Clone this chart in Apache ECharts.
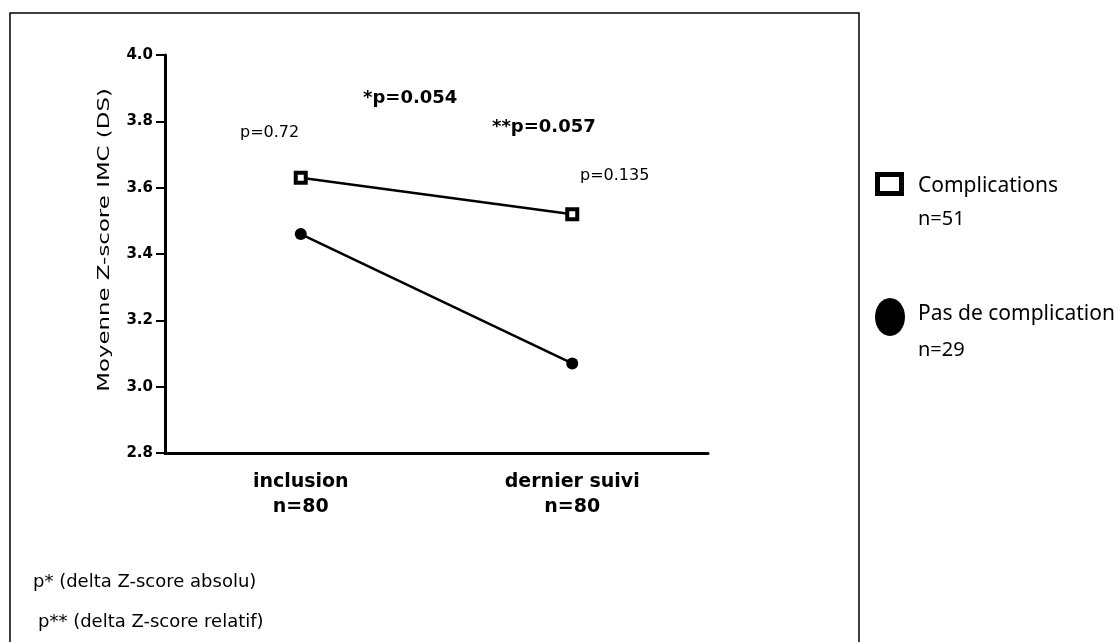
<!DOCTYPE html>
<html>
<head>
<meta charset="utf-8">
<script src="https://cdn.jsdelivr.net/npm/echarts@6/dist/echarts.min.js"></script>
<style>
body { margin: 0; background: #fff; }
#chart { width: 1120px; height: 642px; }
</style>
</head>
<body>
<div id="chart"></div>
<script>
// data
const categories = ['inclusion', 'dernier suivi'];
const counts = ['n=80', 'n=80'];
const complications = [3.63, 3.52];
const sansComplication = [3.46, 3.07];
const seriesNames = ['Complications', 'Pas de complication'];
const seriesCounts = ['n=51', 'n=29'];
const yTicks = { min: 2.8, max: 4.0, interval: 0.2 };

const chart = echarts.init(document.getElementById('chart'));
const sans = 'DejaVu Sans, sans-serif';
const calibri = 'Noto Sans, sans-serif';

chart.setOption({
  animation: false,
  grid: { left: 165, top: 55, width: 543, height: 398 },
  xAxis: {
    type: 'category',
    data: categories,
    axisLine: { lineStyle: { color: '#000', width: 3 } },
    axisTick: { alignWithLabel: true, length: 8, lineStyle: { color: '#000', width: 2 } },
    axisLabel: {
      margin: 17,
      color: '#000',
      fontFamily: sans,
      fontWeight: 'bold',
      fontSize: 19,
      lineHeight: 25,
      formatter: (v, i) => v + '\n' + counts[i]
    }
  },
  yAxis: {
    type: 'value',
    min: yTicks.min,
    max: yTicks.max,
    interval: yTicks.interval,
    splitLine: { show: false },
    axisLine: { show: true, lineStyle: { color: '#000', width: 3 } },
    axisTick: { show: true, length: 9, lineStyle: { color: '#000', width: 2 } },
    axisLabel: {
      margin: 12,
      color: '#000',
      fontFamily: sans,
      fontWeight: 'bold',
      fontSize: 15,
      formatter: v => v.toFixed(1)
    }
  },
  series: [
    {
      name: seriesNames[0],
      type: 'line',
      data: complications,
      symbol: 'rect',
      symbolSize: 10,
      lineStyle: { color: '#000', width: 2.5 },
      itemStyle: { color: '#fff', borderColor: '#000', borderWidth: 4 },
      z: 3
    },
    {
      name: seriesNames[1],
      type: 'line',
      data: sansComplication,
      symbol: 'circle',
      symbolSize: 12,
      lineStyle: { color: '#000', width: 2.5 },
      itemStyle: { color: '#000' }
    }
  ],
  graphic: [
    // frame
    { type: 'rect', shape: { x: 10, y: 13, width: 849, height: 640 },
      style: { fill: 'none', stroke: '#000', lineWidth: 1.5 }, silent: true },
    // y axis title (stretched like the original)
    { type: 'text', x: 105, y: 240, rotation: Math.PI / 2, scaleX: 1.43,
      style: { text: 'Moyenne Z-score IMC (DS)', font: '16px ' + sans, fill: '#000', align: 'center', verticalAlign: 'middle' } },
    // p-value annotations
    { type: 'text', x: 240, y: 133, style: { text: 'p=0.72', font: '16px ' + sans, fill: '#000', verticalAlign: 'middle' } },
    { type: 'text', x: 363, y: 98, style: { text: '*p=0.054', font: 'bold 18px ' + sans, fill: '#000', verticalAlign: 'middle' } },
    { type: 'text', x: 492, y: 127, style: { text: '**p=0.057', font: 'bold 18px ' + sans, fill: '#000', verticalAlign: 'middle' } },
    { type: 'text', x: 580, y: 176, style: { text: 'p=0.135', font: '16px ' + sans, fill: '#000', verticalAlign: 'middle' } },
    // legend
    { type: 'rect', shape: { x: 877.5, y: 174.5, width: 24, height: 19 },
      style: { fill: '#fff', stroke: '#000', lineWidth: 5 } },
    { type: 'text', x: 918, y: 186, style: { text: seriesNames[0], font: '21px ' + calibri, fill: '#000', verticalAlign: 'middle' } },
    { type: 'text', x: 918, y: 219, style: { text: seriesCounts[0], font: '20px ' + calibri, fill: '#000', verticalAlign: 'middle' } },
    { type: 'ellipse', shape: { cx: 890, cy: 317, rx: 15, ry: 19 }, style: { fill: '#000' } },
    { type: 'text', x: 918, y: 314, style: { text: seriesNames[1], font: '21px ' + calibri, fill: '#000', verticalAlign: 'middle' } },
    { type: 'text', x: 918, y: 350, style: { text: seriesCounts[1], font: '20px ' + calibri, fill: '#000', verticalAlign: 'middle' } },
    // footnotes
    { type: 'text', x: 33, y: 582, style: { text: 'p* (delta Z-score absolu)', font: '18px ' + sans, fill: '#000', verticalAlign: 'middle' } },
    { type: 'text', x: 38, y: 622, style: { text: 'p** (delta Z-score relatif)', font: '18px ' + sans, fill: '#000', verticalAlign: 'middle' } }
  ]
});
</script>
</body>
</html>
